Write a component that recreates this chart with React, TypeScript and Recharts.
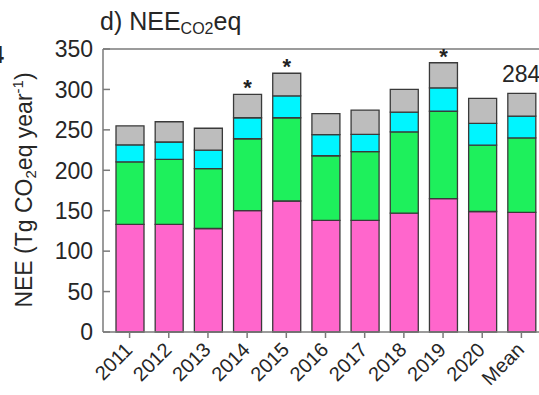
import { BarChart, Bar, XAxis, YAxis, ReferenceLine, LabelList } from "recharts";

const FONT = "'Liberation Sans', Arial, sans-serif";
const AXIS = "#7a7a7a";
const EDGE = "#3a3a3a";

// stacked components of NEE, Tg CO2eq per year
const years = ["2011", "2012", "2013", "2014", "2015", "2016", "2017", "2018", "2019", "2020", "Mean"];
const pinkPart = [133, 133, 128, 150, 162, 138, 138, 147, 165, 149, 148];
const greenPart = [77.5, 80.5, 74, 89, 103, 80, 85, 100.5, 108, 82, 92];
const cyanPart = [21, 21.5, 23, 26, 27, 26, 21.5, 24.5, 29, 27, 27];
const greyPart = [23.5, 25, 27, 29, 28, 26, 30, 28, 31, 31, 28];
const significant = [false, false, false, true, true, false, false, false, true, false, false];
const yTicks = [0, 50, 100, 150, 200, 250, 300, 350];

const data = years.map((year, i) => ({
  year,
  pink: pinkPart[i],
  green: greenPart[i],
  cyan: cyanPart[i],
  grey: greyPart[i],
  star: significant[i] ? "*" : "",
}));

function YTick(props: any) {
  const { x, y, payload } = props;
  return (
    <g>
      <line x1={x} x2={x + 7} y1={y} y2={y} stroke={AXIS} strokeWidth={1.5} />
      <text x={x - 10} y={y} dy="0.36em" textAnchor="end" fontSize={23} fill="#262626" fontFamily={FONT}>
        {payload.value}
      </text>
    </g>
  );
}

function XTick(props: any) {
  const { x, y, payload } = props;
  return (
    <text
      x={x + 4}
      y={y + 11}
      textAnchor="end"
      fontSize={20}
      fill="#262626"
      fontFamily={FONT}
      transform={`rotate(-45 ${x + 4} ${y + 11})`}
    >
      {payload.value}
    </text>
  );
}

function Star(props: any) {
  const { x, y, width, value } = props;
  if (!value) return null;
  return (
    <text x={x + width / 2} y={y + 1} textAnchor="middle" fontSize={22} fontWeight="bold" fill="#222" fontFamily={FONT}>
      {value}
    </text>
  );
}

export default function App() {
  return (
    <div style={{ position: "absolute", left: 0, top: 0, width: 539, height: 395, overflow: "hidden", background: "#fff" }}>
      <BarChart
        width={558}
        height={395}
        data={data}
        margin={{ top: 49, right: 10, bottom: 33, left: 50 }}
        barSize={28}
      >
        <XAxis
          dataKey="year"
          height={30}
          interval={0}
          padding={{ left: 7, right: 7 }}
          stroke={AXIS}
          strokeWidth={1.5}
          tickSize={6}
          tick={<XTick />}
        />
        <YAxis
          width={53}
          domain={[0, 350]}
          ticks={yTicks}
          stroke={AXIS}
          strokeWidth={1.5}
          tickLine={false}
          tickSize={0}
          tickMargin={0}
          tick={<YTick />}
        />
        <ReferenceLine y={350} stroke={AXIS} strokeWidth={1.5} />
        <Bar dataKey="pink" stackId="nee" fill="#ff66cc" stroke={EDGE} strokeWidth={1.3} isAnimationActive={false} />
        <Bar dataKey="green" stackId="nee" fill="#1ef05c" stroke={EDGE} strokeWidth={1.3} isAnimationActive={false} />
        <Bar dataKey="cyan" stackId="nee" fill="#00f5ff" stroke={EDGE} strokeWidth={1.3} isAnimationActive={false} />
        <Bar dataKey="grey" stackId="nee" fill="#bdbdbd" stroke={EDGE} strokeWidth={1.3} isAnimationActive={false}>
          <LabelList dataKey="star" content={<Star />} />
        </Bar>
      </BarChart>
      <svg
        width={539}
        height={395}
        style={{ position: "absolute", left: 0, top: 0, pointerEvents: "none" }}
        fontFamily={FONT}
        fill="#262626"
      >
        <text x={-9} y={63} fontSize={23} fontWeight="bold">4</text>
        <text x={100} y={30} fontSize={25}>
          d) NEE
          <tspan fontSize={16} dy={4}>CO2</tspan>
          <tspan dy={-4}>eq</tspan>
        </text>
        <text x={502} y={82} fontSize={23}>284</text>
        <text x={32} y={190} fontSize={23} textAnchor="middle" transform="rotate(-90 32 190)">
          NEE (Tg CO
          <tspan fontSize={15} dy={4}>2</tspan>
          <tspan dy={-4}>eq year</tspan>
          <tspan fontSize={15} dy={-9}>-1</tspan>
          <tspan dy={9}>)</tspan>
        </text>
      </svg>
    </div>
  );
}
